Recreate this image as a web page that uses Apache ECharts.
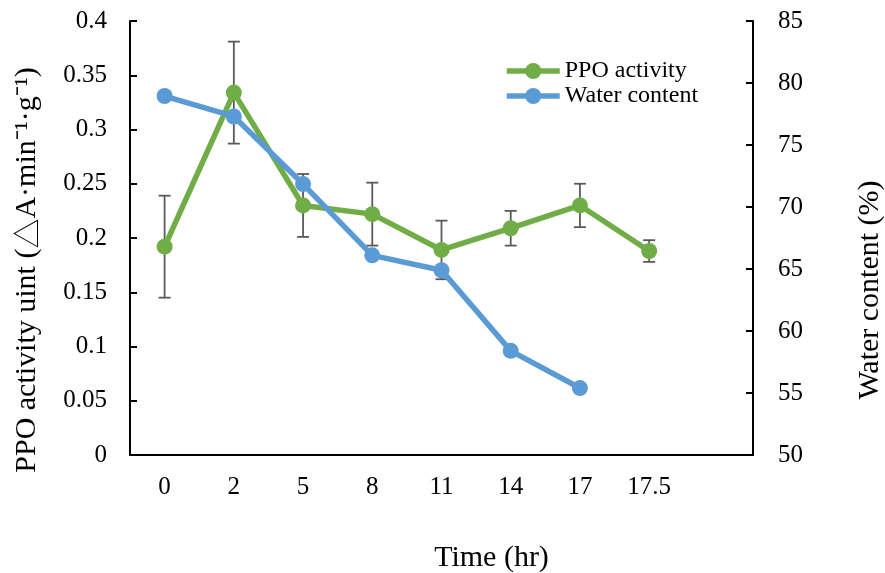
<!DOCTYPE html>
<html>
<head>
<meta charset="utf-8">
<script src="https://cdn.jsdelivr.net/npm/echarts@6/dist/echarts.min.js"></script>
<style>
html,body{margin:0;padding:0;background:#fff;}
#chart{width:885px;height:573px;}
</style>
</head>
<body>
<div id="chart"></div>
<script>
const categories = ['0', '2', '5', '8', '11', '14', '17', '17.5', ''];
const ppoActivity = [0.192, 0.334, 0.230, 0.222, 0.189, 0.209, 0.230, 0.188, null];
const ppoError = [0.047, 0.047, 0.029, 0.029, 0.027, 0.016, 0.020, 0.010, null];
const waterContent = [78.95, 77.3, 71.85, 66.1, 64.9, 58.4, 55.4, null, null];
const leftTicks = { min: 0, max: 0.4, interval: 0.05 };
const rightTicks = { min: 50, max: 85, interval: 5 };

const FONT = "'Liberation Serif', 'Times New Roman', serif";
const chart = echarts.init(document.getElementById('chart'));

const errData = ppoActivity.map((v, i) => v == null ? null : [i, v - ppoError[i], v + ppoError[i]]).filter(d => d);

chart.setOption({
  animation: false,
  backgroundColor: '#ffffff',
  textStyle: { fontFamily: FONT },
  grid: { left: 130, right: 132, top: 21, bottom: 118, outerBoundsMode: 'none', containLabel: false },
  legend: {
    orient: 'vertical',
    left: 499,
    top: 54,
    itemWidth: 53,
    itemHeight: 20,
    itemGap: 1,
    lineStyle: { width: 5.5 },
    textStyle: { fontFamily: FONT, fontSize: 24, color: '#000' },
    data: ['PPO activity', 'Water content']
  },
  xAxis: {
    type: 'category',
    data: categories,
    boundaryGap: true,
    name: 'Time (hr)',
    nameLocation: 'middle',
    nameGap: 88,
    nameTextStyle: { fontFamily: FONT, fontSize: 30, color: '#000', padding: [0, 0, 0, 100] },
    axisLine: { lineStyle: { color: '#000', width: 2 } },
    axisTick: { inside: true, length: 7, lineStyle: { color: '#000', width: 2 } },
    axisLabel: { fontFamily: FONT, fontSize: 25, color: '#000', margin: 20 },
    splitLine: { show: false }
  },
  yAxis: [
    {
      type: 'value',
      min: leftTicks.min, max: leftTicks.max, interval: leftTicks.interval,
      name: 'PPO activity uint ({t|△}A·min⁻¹·g⁻¹)',
      nameLocation: 'middle',
      nameRotate: 90,
      nameGap: 88,
      nameTextStyle: {
        fontFamily: FONT, fontSize: 30, color: '#000', padding: [0, 64, 0, 0],
        rich: { t: { fontFamily: "'Noto Sans CJK SC', sans-serif", fontSize: 30, color: '#000', fontWeight: 300 } }
      },
      axisLine: { show: true, lineStyle: { color: '#000', width: 2 } },
      axisTick: { show: true, inside: true, length: 7, lineStyle: { color: '#000', width: 2 } },
      axisLabel: { fontFamily: FONT, fontSize: 25, color: '#000', margin: 23 },
      splitLine: { show: false }
    },
    {
      type: 'value',
      position: 'right',
      min: rightTicks.min, max: rightTicks.max, interval: rightTicks.interval,
      name: 'Water content (%)',
      nameLocation: 'middle',
      nameRotate: 90,
      nameGap: 102,
      nameTextStyle: { fontFamily: FONT, fontSize: 30, color: '#000', padding: [0, 104, 0, 0] },
      axisLine: { show: true, lineStyle: { color: '#000', width: 2 } },
      axisTick: { show: true, inside: true, length: 7, lineStyle: { color: '#000', width: 2 } },
      axisLabel: { fontFamily: FONT, fontSize: 25, color: '#000', margin: 25 },
      splitLine: { show: false }
    }
  ],
  series: [
    {
      name: 'errorbars',
      type: 'custom',
      yAxisIndex: 0,
      z: 1,
      data: errData,
      renderItem: function (params, api) {
        const x = api.value(0);
        const lo = api.coord([x, api.value(1)]);
        const hi = api.coord([x, api.value(2)]);
        const hw = 6;
        const style = { stroke: '#5a5a5a', lineWidth: 1.8 };
        return {
          type: 'group',
          children: [
            { type: 'line', shape: { x1: lo[0], y1: lo[1], x2: hi[0], y2: hi[1] }, style: style },
            { type: 'line', shape: { x1: lo[0] - hw, y1: lo[1], x2: lo[0] + hw, y2: lo[1] }, style: style },
            { type: 'line', shape: { x1: hi[0] - hw, y1: hi[1], x2: hi[0] + hw, y2: hi[1] }, style: style }
          ]
        };
      }
    },
    {
      name: 'PPO activity',
      type: 'line',
      yAxisIndex: 0,
      z: 3,
      data: ppoActivity,
      symbol: 'circle',
      symbolSize: 16,
      color: '#70AD47',
      lineStyle: { color: '#70AD47', width: 5.5 },
      itemStyle: { color: '#70AD47' }
    },
    {
      name: 'Water content',
      type: 'line',
      yAxisIndex: 1,
      z: 4,
      data: waterContent,
      symbol: 'circle',
      symbolSize: 16,
      color: '#5B9BD5',
      lineStyle: { color: '#5B9BD5', width: 5.5 },
      itemStyle: { color: '#5B9BD5' }
    }
  ]
});
</script>
</body>
</html>
